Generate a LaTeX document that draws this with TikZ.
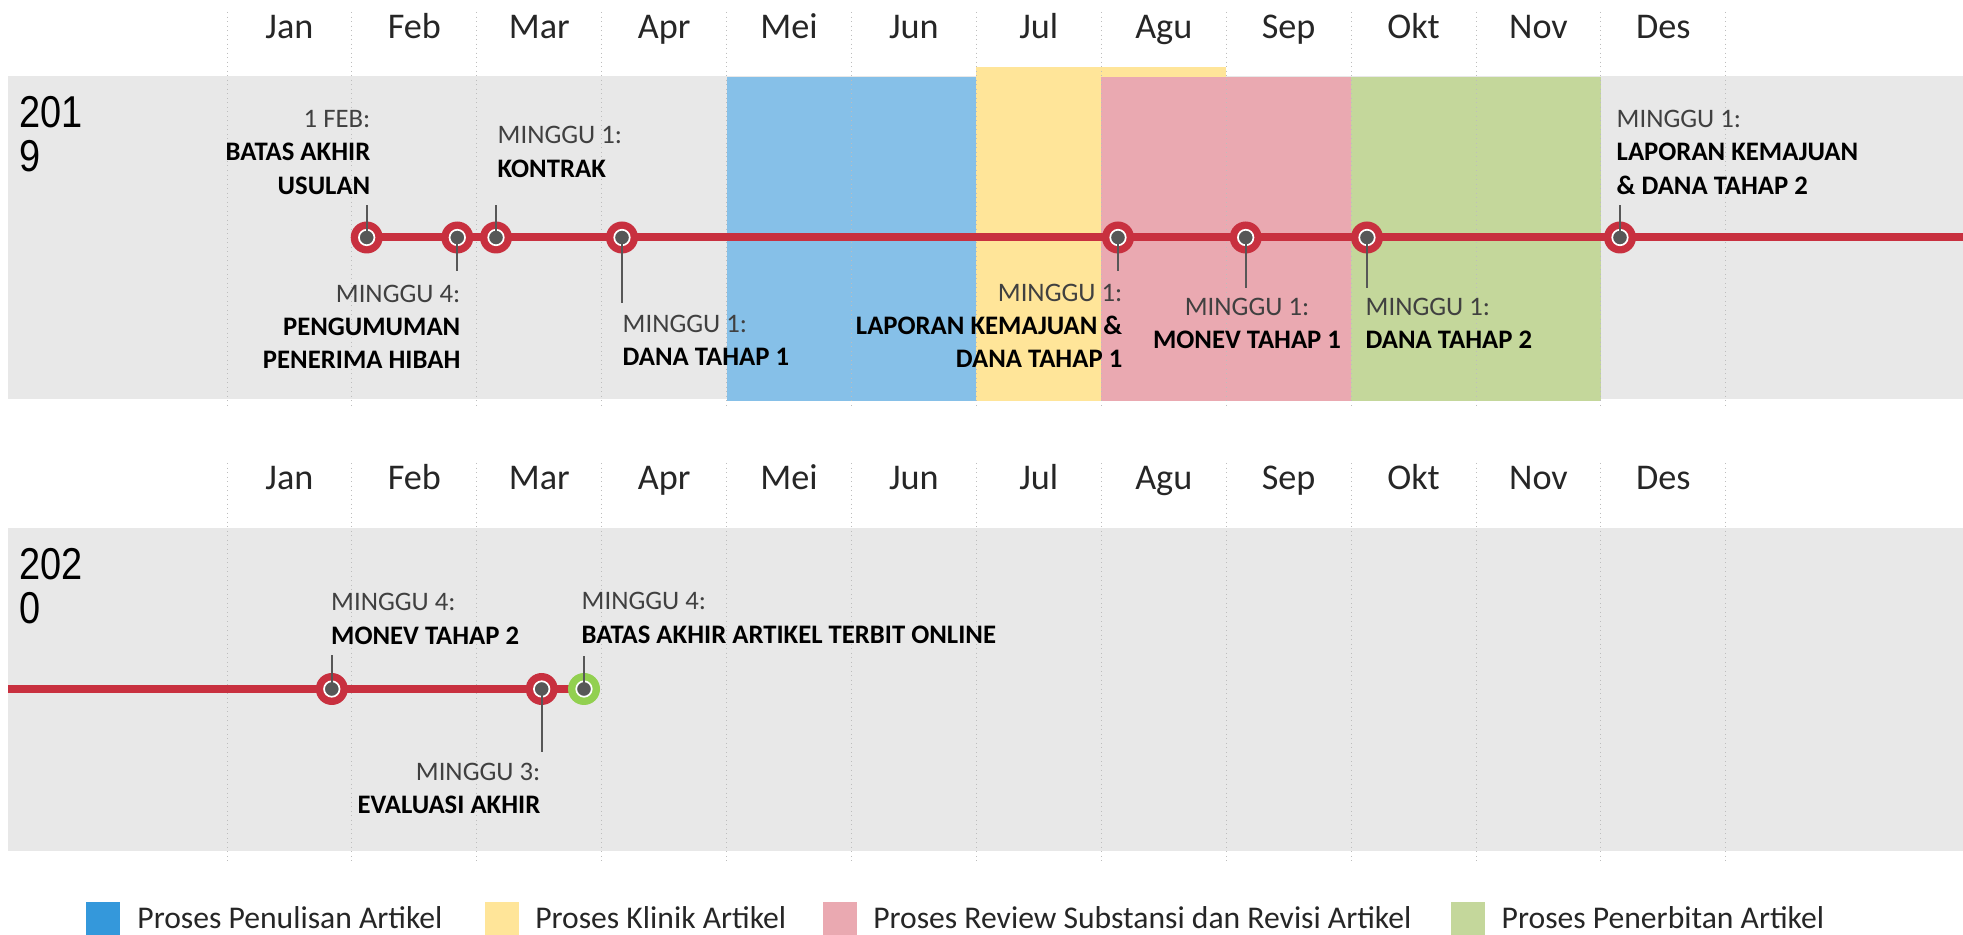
\documentclass[tikz,border=0pt]{standalone}
\usepackage{fontspec}
\setmainfont{Carlito}
\newfontfamily\yearfont{Liberation Sans}
\definecolor{bandgray}{HTML}{E8E8E8}
\definecolor{gridgray}{HTML}{BDBDBD}
\definecolor{tlred}{HTML}{C8303F}
\definecolor{tlgreen}{HTML}{92D050}
\definecolor{dotgray}{HTML}{575757}
\definecolor{notegray}{HTML}{404040}
\definecolor{barblue}{HTML}{86C0E8}
\definecolor{baryellow}{HTML}{FFE599}
\definecolor{barpink}{HTML}{EAA9B1}
\definecolor{bargreen}{HTML}{C4D79B}
\definecolor{keyblue}{HTML}{3498DB}
\newcommand{\notehead}[1]{{\mdseries\color{notegray}#1}}
\newcommand{\yeartext}[1]{\scalebox{0.85}[1]{#1}}
\begin{document}
\begin{tikzpicture}
  [x=0.1mm, y=-0.1mm,
   grid/.style={gridgray, densely dotted, line width=0.1mm},
   month/.style={anchor=base, inner sep=0, text=black!85,
                 font=\fontsize{10.3}{12}\selectfont},
   year/.style={anchor=base west, inner sep=0,
                font=\yearfont\fontsize{12.7}{14}\selectfont},
   tline/.style={tlred, line width=0.8mm},
   ring/.style={circle, fill=tlred, minimum size=3.2mm, inner sep=0},
   dot/.style={circle, fill=dotgray, draw=white, line width=0.17mm,
               minimum size=1.55mm, inner sep=0},
   stem/.style={dotgray, line width=0.2mm},
   note/.style={inner sep=0, font=\fontsize{7.6}{9.5}\selectfont\bfseries},
   key/.style={anchor=north west, minimum size=3.4mm, inner sep=0},
   keytext/.style={anchor=west, inner sep=0, text=black!85,
                   font=\fontsize{9}{11}\selectfont}]
  \useasboundingbox (0,0) rectangle (1963,935);

  % bands
  \fill[bandgray] (8,76) rectangle (1963,399);
  \fill[bandgray] (8,528) rectangle (1963,851);
  \fill[barblue] (726.6,77.5) rectangle (976.4,401);
  \fill[baryellow] (976.4,66.7) rectangle (1226.2,401);
  \fill[barpink] (1101.3,77.5) rectangle (1351,401);
  \fill[bargreen] (1351,77.5) rectangle (1600.8,401);

  % months
  \foreach \i in {0,...,12} {
    \draw[grid] (227+124.9*\i,12) -- (227+124.9*\i,407);
    \draw[grid] (227+124.9*\i,463) -- (227+124.9*\i,861);
  }
  \foreach \m [count=\i from 0] in {Jan,Feb,Mar,Apr,Mei,Jun,Jul,Agu,Sep,Okt,Nov,Des} {
    \node[month] (mon19\i) at (289.45+124.9*\i,39) {\m};
    \node[month] (mon20\i) at (289.45+124.9*\i,490) {\m};
  }

  % years
  \node[year] (yr19a) at (19,128) {\yeartext{201}};
  \node[year] (yr19b) at (19,172) {\yeartext{9}};
  \node[year] (yr20a) at (19,580) {\yeartext{202}};
  \node[year] (yr20b) at (19,624) {\yeartext{0}};

  % 2019 timeline
  \foreach \n/\x/\t in {a/366.7/205, b/457.3/271, c/496/205, d/622/303,
                        e/1118/271, f/1245.7/288, g/1367/288, h/1620/205} {
    \coordinate (s\n) at (\x,237.5);
    \coordinate (t\n) at (\x,\t);
  }
  \coordinate (end19) at (1963,237.5);
  \draw[tline] (sa) -- (end19);
  \foreach \n in {a,b,c,d,e,f,g,h} {
    \node[ring] (r\n) at (s\n) {};
    \node[dot] (d\n) at (s\n) {};
    \draw[stem] (d\n.center) -- (t\n);
  }

  % 2020 timeline
  \foreach \n/\x/\t in {p/331.8/655, q/541.7/752, r/584/656} {
    \coordinate (s\n) at (\x,689);
    \coordinate (t\n) at (\x,\t);
  }
  \coordinate (start20) at (8,689);
  \draw[tline] (start20) -- (sr);
  \node[ring] (rp) at (sp) {};
  \node[ring] (rq) at (sq) {};
  \node[ring, fill=tlgreen] (rr) at (sr) {};
  \foreach \n in {p,q,r} {
    \node[dot] (d\n) at (s\n) {};
    \draw[stem] (d\n.center) -- (t\n);
  }

  % notes 2019
  \node[note, align=right, anchor=south east] (na) at (371,195)
    {\notehead{1 FEB:}\\BATAS AKHIR\\USULAN};
  \node[note, align=right, anchor=north east] (nb) at (461,284)
    {\notehead{MINGGU 4:}\\PENGUMUMAN\\PENERIMA HIBAH};
  \node[note, align=left, anchor=south west] (nc) at (497,178)
    {\notehead{MINGGU 1:}\\KONTRAK};
  \node[note, align=left, anchor=north west] (nd) at (622,314)
    {\notehead{MINGGU 1:}\\DANA TAHAP 1};
  \node[note, align=right, anchor=north east] (ne) at (1123,283)
    {\notehead{MINGGU 1:}\\LAPORAN KEMAJUAN \&\\DANA TAHAP 1};
  \node[note, align=center, anchor=north] (nf) at (1247,297)
    {\notehead{MINGGU 1:}\\MONEV TAHAP 1};
  \node[note, align=left, anchor=north west] (ng) at (1365,297)
    {\notehead{MINGGU 1:}\\DANA TAHAP 2};
  \node[note, align=left, anchor=south west] (nh) at (1616,195)
    {\notehead{MINGGU 1:}\\LAPORAN KEMAJUAN\\\& DANA TAHAP 2};

  % notes 2020
  \node[note, align=left, anchor=south west] (np) at (330.5,645)
    {\notehead{MINGGU 4:}\\MONEV TAHAP 2};
  \node[note, align=right, anchor=north east] (nq) at (541,762)
    {\notehead{MINGGU 3:}\\EVALUASI AKHIR};
  \node[note, align=left, anchor=south west] (nr) at (581,644)
    {\notehead{MINGGU 4:}\\BATAS AKHIR ARTIKEL TERBIT ONLINE};

  % legend
  \node[key, fill=keyblue] (k1) at (85,901) {};
  \node[keytext] (kt1) at (136.7,918) {Proses Penulisan Artikel};
  \node[key, fill=baryellow] (k2) at (484.5,901) {};
  \node[keytext] (kt2) at (534.6,918) {Proses Klinik Artikel};
  \node[key, fill=barpink] (k3) at (822.5,901) {};
  \node[keytext] (kt3) at (872.6,918) {Proses Review Substansi dan Revisi Artikel};
  \node[key, fill=bargreen] (k4) at (1450,901) {};
  \node[keytext] (kt4) at (1501,918) {Proses Penerbitan Artikel};
\end{tikzpicture}
\end{document}
